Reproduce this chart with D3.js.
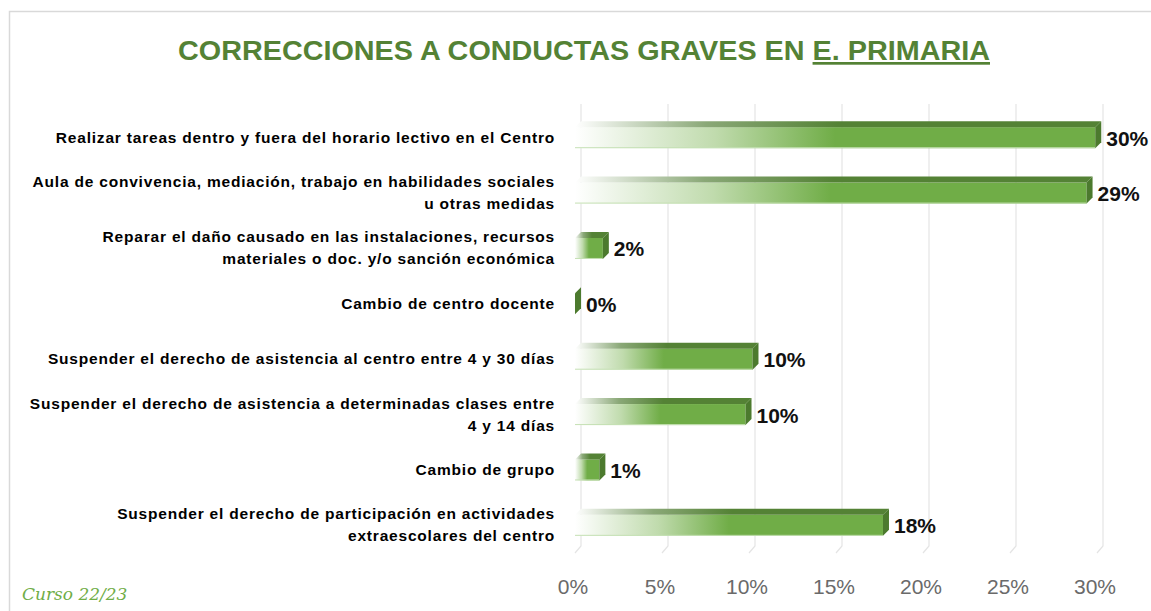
<!DOCTYPE html>
<html>
<head>
<meta charset="utf-8">
<script src="https://cdn.jsdelivr.net/npm/d3@7"></script>
<style>
  body { margin: 0; background: #fff; }
  svg { display: block; font-family: "Liberation Sans", Arial, sans-serif; }
</style>
</head>
<body>
<div id="chart"></div>
<script>
// categories (one entry per row, lines split with "|")
const categories = [
    "Realizar tareas dentro y fuera del horario lectivo en el Centro",
    "Aula de convivencia, mediación, trabajo en habilidades sociales|u otras medidas",
    "Reparar el daño causado en las instalaciones, recursos|materiales o doc. y/o sanción económica",
    "Cambio de centro docente",
    "Suspender el derecho de asistencia al centro entre 4 y 30 días",
    "Suspender el derecho de asistencia a determinadas clases entre|4 y 14 días",
    "Cambio de grupo",
    "Suspender el derecho de participación en actividades|extraescolares del centro"
];
// percentages
const values = [29.9, 29.4, 1.6, 0, 10.2, 9.8, 1.4, 17.7];
const ticks = [0, 5, 10, 15, 20, 25, 30];

const width = 1151;
const height = 611;
const depth = 6;

const svg = d3.select("#chart")
    .append("svg")
    .attr("width", width)
    .attr("height", height);

const defs = svg.append("defs");

const frontGrad = defs.append("linearGradient").attr("id", "frontGrad");
frontGrad.append("stop").attr("offset", "0").attr("stop-color", "#ffffff");
frontGrad.append("stop").attr("offset", "0.06").attr("stop-color", "#f1f7ed");
frontGrad.append("stop").attr("offset", "0.27").attr("stop-color", "#c0dbad");
frontGrad.append("stop").attr("offset", "0.5").attr("stop-color", "#70ad47");
frontGrad.append("stop").attr("offset", "1").attr("stop-color", "#70ad47");

const topGrad = defs.append("linearGradient").attr("id", "topGrad");
topGrad.append("stop").attr("offset", "0").attr("stop-color", "#ffffff");
topGrad.append("stop").attr("offset", "0.25").attr("stop-color", "#8aa877");
topGrad.append("stop").attr("offset", "0.5").attr("stop-color", "#548235");
topGrad.append("stop").attr("offset", "1").attr("stop-color", "#548235");

// chart border
svg.append("rect")
    .attr("x", 9.5).attr("y", 11.5)
    .attr("width", width + 20).attr("height", height + 20)
    .attr("fill", "none")
    .attr("stroke", "#d9d9d9")
    .attr("stroke-width", 1.5);

// title
const title = svg.append("text")
    .attr("x", 584)
    .attr("y", 60)
    .attr("text-anchor", "middle")
    .attr("font-size", 27)
    .attr("font-weight", "bold")
    .attr("fill", "#548235")
    .attr("textLength", 812)
    .attr("lengthAdjust", "spacingAndGlyphs");
title.append("tspan").text("CORRECCIONES  A CONDUCTAS GRAVES EN ");
title.append("tspan").attr("text-decoration", "underline").text("E. PRIMARIA");

const x = d3.scaleLinear()
    .domain([0, 30])
    .range([575, 1097]);

const y = d3.scaleBand()
    .domain(d3.range(categories.length))
    .range([110, 553])
    .paddingInner(0.62)
    .paddingOuter(0.31);

// gridlines (back wall + floor)
const grid = svg.append("g");
ticks.forEach(function(t) {
    grid.append("path")
        .attr("d", `M${x(t) + depth},104 L${x(t) + depth},546 L${x(t)},553`)
        .attr("fill", "none")
        .attr("stroke", "#e4e4e4")
        .attr("stroke-width", 1.2);
});

// axis labels
svg.append("g")
    .selectAll("text")
    .data(ticks)
    .enter().append("text")
    .attr("x", d => x(d) - 2)
    .attr("y", 594)
    .attr("text-anchor", "middle")
    .attr("font-size", 21)
    .attr("fill", "#6a6a6a")
    .text(d => d + "%");

// bars
const bars = svg.append("g")
    .selectAll("g")
    .data(values)
    .enter().append("g");

bars.each(function(v, i) {
    const g = d3.select(this);
    const x0 = x(0), x1 = x(v);
    const y0 = y(i), h = y.bandwidth();
    if (x1 > x0) {
        g.append("rect")
            .attr("x", x0).attr("y", y0)
            .attr("width", x1 - x0).attr("height", h)
            .attr("fill", "url(#frontGrad)");
        g.append("line")
            .attr("x1", x0).attr("x2", x1)
            .attr("y1", y0 + h - 0.5).attr("y2", y0 + h - 0.5)
            .attr("stroke", "#c5e0b4").attr("stroke-width", 1);
        g.append("path")
            .attr("d", `M${x0},${y0} L${x0 + depth},${y0 - depth} L${x1 + depth},${y0 - depth} L${x1},${y0} Z`)
            .attr("fill", "url(#topGrad)");
    }
    g.append("path")
        .attr("d", `M${x1},${y0} L${x1 + depth},${y0 - depth} L${x1 + depth},${y0 + h - depth} L${x1},${y0 + h} Z`)
        .attr("fill", "#4c7a2e");
});

// value labels
svg.append("g")
    .selectAll("text")
    .data(values)
    .enter().append("text")
    .attr("x", d => x(d) + depth + 5)
    .attr("y", (d, i) => y(i) + y.bandwidth() / 2 + 8)
    .attr("font-size", 21)
    .attr("font-weight", "bold")
    .attr("fill", "#111")
    .text(d => Math.round(d) + "%");

// category labels
const labels = svg.append("g")
    .selectAll("text")
    .data(categories)
    .enter().append("text")
    .attr("text-anchor", "end")
    .attr("font-size", 15.5)
    .attr("letter-spacing", 0.8)
    .attr("font-weight", "bold")
    .attr("fill", "#000");

labels.each(function(c, i) {
    const lines = c.split("|");
    const cy = y(i) + y.bandwidth() / 2;
    const lh = 22;
    const top = cy - (lines.length - 1) * lh / 2 + 5;
    d3.select(this).selectAll("tspan")
        .data(lines)
        .enter().append("tspan")
        .attr("x", 555)
        .attr("y", (d, k) => top + k * lh)
        .text(d => d);
});

// footer note
svg.append("text")
    .attr("x", 22)
    .attr("y", 600)
    .attr("font-size", 17)
    .attr("font-style", "italic")
    .attr("font-family", "'DejaVu Serif', serif")
    .attr("fill", "#70ad47")
    .text("Curso 22/23");
</script>
</body>
</html>
